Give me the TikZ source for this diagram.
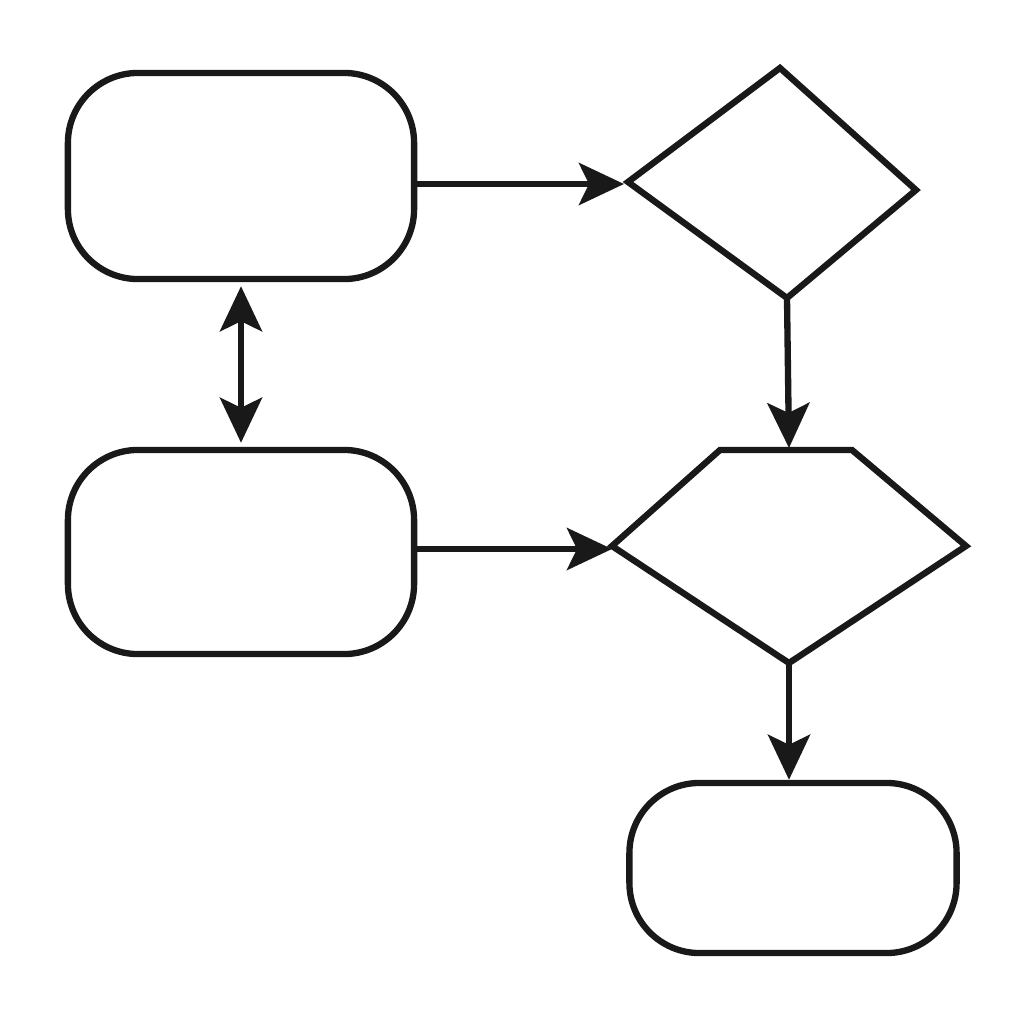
\documentclass[tikz,border=0pt]{standalone}
\usetikzlibrary{arrows.meta}
\begin{document}
\begin{tikzpicture}[x=0.01cm,y=-0.01cm,
  line width=1.8pt, line join=miter,
  box/.style={draw=black!90, rounded corners=0.7cm, line width=1.8pt, inner sep=0pt},
  arr/.style={draw=black!90, line width=1.8pt, -{Stealth[length=0.45cm,width=0.42cm,inset=0.1cm]}},
  darr/.style={draw=black!90, line width=1.8pt, {Stealth[length=0.45cm,width=0.42cm,inset=0.1cm]}-{Stealth[length=0.45cm,width=0.42cm,inset=0.1cm]}}]
\useasboundingbox (0,0) rectangle (1024,1024);
\node[box, minimum width=3.46cm, minimum height=2.06cm] (A) at (241,176) {};
\node[box, minimum width=3.46cm, minimum height=2.04cm] (B) at (241,552) {};
\node[box, minimum width=3.27cm, minimum height=1.70cm] (C) at (793,868) {};
\coordinate (d1t) at (780,68);
\coordinate (d1l) at (628,182);
\coordinate (d1r) at (916,190);
\coordinate (d1b) at (787,298);
\draw[black!90] (d1t) -- (d1r) -- (d1b) -- (d1l) -- cycle;
\coordinate (d2a) at (720,450);
\coordinate (d2b) at (852,450);
\coordinate (d2r) at (966,546);
\coordinate (d2bot) at (789,663);
\coordinate (d2l) at (612,546);
\draw[black!90] (d2a) -- (d2b) -- (d2r) -- (d2bot) -- (d2l) -- cycle;
\coordinate (e1) at (624,184);
\coordinate (e2) at (612,549);
\draw[arr] (A.east |- e1) -- (e1);
\draw[arr] (B.east |- e2) -- (e2);
\draw[darr] ([yshift=-0.04cm]A.south) -- ([yshift=0.04cm]B.north);
\draw[arr] (d1b) -- (789,448);
\draw[arr] (d2bot) -- (C.north -| d2bot);
\end{tikzpicture}
\end{document}
